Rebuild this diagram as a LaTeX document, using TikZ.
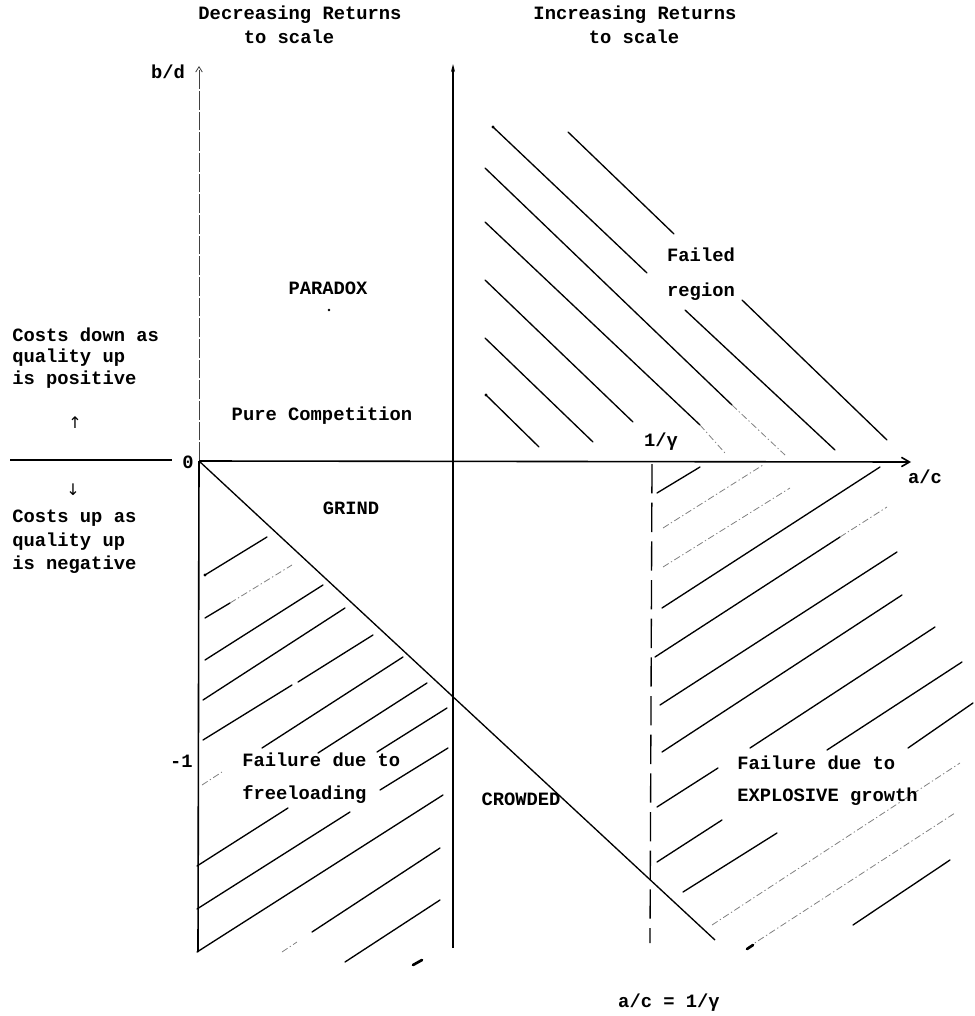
\documentclass[tikz,border=0pt]{standalone}
\usepackage{fontspec}
\setmonofont{Liberation Mono}
\newfontfamily\symfont{DejaVu Sans}
\usetikzlibrary{arrows.meta}
\begin{document}
\begin{tikzpicture}[x=0.75pt,y=-0.75pt,
  lbl/.style={font=\ttfamily\bfseries\fontsize{14.1}{17}\selectfont, inner sep=0pt},
  hatch/.style={line width=1pt, line cap=round},
  faint/.style={line width=0.6pt, black!50, dash pattern=on 5pt off 2pt on 1pt off 2pt},
  axis/.style={line width=1.2pt},
]
\useasboundingbox (0,0) rectangle (974,1016);

% ---------- axes ----------
\coordinate (O) at (199,461);
\coordinate (ytop) at (199,66);
\coordinate (ybot) at (198,952);
\coordinate (xend) at (911,462);
\coordinate (lseg1) at (10,460);
\coordinate (lseg2) at (172,460);
\coordinate (mtop) at (453,64);
\coordinate (mbot) at (453,948);
\coordinate (dtop) at (652,464);
\coordinate (dbot) at (650,943);
\coordinate (diagend) at (715,940);

\draw[line width=0.6pt, black!75, dash pattern=on 14pt off 1.5pt, -{Straight Barb[length=4pt,width=5pt]}] (O) -- (ytop);
\draw[axis] (O) -- (ybot);
\draw[axis, -{Straight Barb[length=6pt,width=7pt]}] (O) -- (xend);
\draw[axis] (lseg1) -- (lseg2);
\draw[line width=1pt, -{Stealth[length=6pt,width=3pt]}] (mbot) -- (mtop);
\draw[line width=1pt, dash pattern=on 22pt off 7pt] (dtop) -- (dbot);
\draw[line width=1pt] (O) -- (diagend);

% ---------- hatching: failed region (upper right) ----------
\draw[hatch] (493,127) -- (647,273);
\draw[hatch] (685,310) -- (835,450);
\draw[hatch] (568,132) -- (674,234);
\draw[hatch] (742,300) -- (887,440);
\draw[hatch] (485,168) -- (732,405);
\draw[faint] (732,405) -- (785,455);
\draw[hatch] (485,222) -- (700,425);
\draw[faint] (700,425) -- (725,453);
\draw[hatch] (485,280) -- (633,422);
\draw[hatch] (485,338) -- (593,442);
\draw[hatch] (486,395) -- (539,447);
\fill (493,127) circle (1.6);
\fill (486,395) circle (1.6);

% ---------- hatching: freeloading (lower left) ----------
\draw[hatch] (205,575) -- (267,537);
\fill (205,575) circle (1.6);
\draw[hatch] (205,618) -- (230,603);
\draw[faint] (230,603) -- (292,565);
\draw[hatch] (205,660) -- (323,585);
\draw[hatch] (203,700) -- (345,608);
\draw[hatch] (203,740) -- (292,685);
\draw[hatch] (298,682) -- (373,635);
\draw[faint] (202,785) -- (222,772);
\draw[hatch] (262,748) -- (403,657);
\draw[hatch] (318,753) -- (427,683);
\draw[hatch] (197,866) -- (288,808);
\draw[hatch] (377,752) -- (447,708);
\draw[hatch] (197,909) -- (350,812);
\draw[hatch] (380,790) -- (448,748);
\draw[hatch] (197,952) -- (443,795);
\draw[faint] (282,952) -- (297,942);
\draw[hatch] (312,932) -- (440,848);
\draw[hatch] (345,962) -- (440,900);
\draw[line width=2pt, line cap=round] (413,965) -- (422,960);

% ---------- hatching: explosive growth (lower right) ----------
\draw[hatch] (657,493) -- (700,467);
\draw[faint] (663,528) -- (763,465);
\draw[faint] (663,567) -- (790,488);
\draw[hatch] (662,608) -- (880,467);
\draw[hatch] (655,657) -- (840,537);
\draw[faint] (840,537) -- (887,507);
\draw[hatch] (660,705) -- (897,552);
\draw[hatch] (662,752) -- (902,595);
\draw[hatch] (657,807) -- (718,768);
\draw[hatch] (750,748) -- (935,627);
\draw[hatch] (657,862) -- (722,820);
\draw[hatch] (827,750) -- (962,662);
\draw[hatch] (683,892) -- (777,833);
\draw[hatch] (908,748) -- (973,703);
\draw[faint] (712,925) -- (960,763);
\draw[faint] (747,948) -- (955,813);
\draw[line width=2pt, line cap=round] (747,949) -- (753,945);
\draw[hatch] (853,925) -- (950,860);

% ---------- labels ----------
\node[lbl] (dec1) at (300,15) {Decreasing Returns};
\node[lbl] (dec2) at (289,37) {to scale};
\node[lbl] (inc1) at (635,15) {Increasing Returns};
\node[lbl] (inc2) at (634,37) {to scale};
\node[lbl] (bd) at (168,72) {b/d};
\node[lbl] (zero) at (188,462) {0};
\node[lbl, anchor=west] (cd1) at (12,335) {Costs down as};
\node[lbl, anchor=west] (cd2) at (12,358) {quality up};
\node[lbl, anchor=west] (cd3) at (12,380) {is positive};
\node[inner sep=0pt, font=\symfont\fontsize{12}{14}\selectfont] (uparr) at (75,423) {↑};
\node[inner sep=0pt, font=\symfont\fontsize{12}{14}\selectfont] (dnarr) at (73,490) {↓};
\node[lbl, anchor=west] (cu1) at (12,518) {Costs up as};
\node[lbl, anchor=west] (cu2) at (12,542) {quality up};
\node[lbl, anchor=west] (cu3) at (12,565) {is negative};
\node[lbl] (paradox) at (328,288) {PARADOX};
\fill (329,310) circle (1.3);
\node[lbl] (pure) at (322,416) {Pure Competition};
\node[lbl] (grind) at (351,508) {GRIND};
\node[lbl] (failed) at (701,255) {Failed};
\node[lbl] (region) at (701,292) {region};
\node[lbl] (gam) at (661,442) {1/γ};
\node[lbl] (ac) at (925,477) {a/c};
\node[lbl, anchor=east] (m1) at (193,761) {-1};
\node[lbl, anchor=west] (ff1) at (242,760) {Failure due to};
\node[lbl, anchor=west] (ff2) at (242,795) {freeloading};
\node[lbl] (crowded) at (521,799) {CROWDED};
\node[lbl, anchor=west] (fe1) at (737,763) {Failure due to};
\node[lbl, anchor=west] (fe2) at (737,797) {EXPLOSIVE growth};
\node[lbl] (eq) at (669,1003) {a/c = 1/γ};
\end{tikzpicture}
\end{document}
